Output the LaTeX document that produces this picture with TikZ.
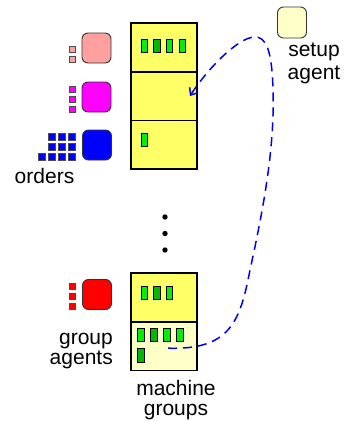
\documentclass[tikz,border=0pt]{standalone}
\usepackage{fontspec}
\setmainfont{Liberation Sans}
\usetikzlibrary{positioning,arrows.meta}

\definecolor{cellyellow}{RGB}{255,255,102}
\definecolor{idleyellow}{RGB}{255,255,200}
\definecolor{pinkagent}{RGB}{255,160,160}
\definecolor{ordmagenta}{RGB}{255,0,255}
\definecolor{ordblue}{RGB}{0,0,255}
\definecolor{grpred}{RGB}{255,0,0}
\definecolor{linkblue}{RGB}{0,0,240}
\definecolor{machgreen}{RGB}{0,240,0}
\definecolor{machdark}{RGB}{0,185,0}

\tikzset{
  cell/.style={draw=black, line width=1.6pt, fill=cellyellow, minimum width=66pt,
    minimum height=48.7pt, inner sep=0pt, outer sep=0pt},
  agent/.style={draw=black!80, line width=0.9pt, rounded corners=6pt,
    minimum width=29pt, minimum height=30pt, inner sep=0pt},
  job/.style={draw=black!70, line width=0.4pt},
  mach/.style={draw=black, line width=0.8pt, fill=machgreen},
  lbl/.style={font=\fontsize{21}{23}\selectfont, align=center, inner sep=0pt},
  agentlink/.style={linkblue, line width=1.5pt, dash pattern=on 9pt off 6pt,
    -{Straight Barb[length=6pt,width=10pt]}}
}

\begin{document}
\begin{tikzpicture}[x=1pt,y=-1pt]
\useasboundingbox (0,0) rectangle (347,421);

%%%%%%%%%%%%%%%%%%Upper Machine Group Column%%%%%%%%%%%%%%%
\node[cell] (t1) at (164,47.35) {};
\node[cell,below=0pt of t1] (t2) {};
\node[cell,below=0pt of t2] (t3) {};

%%%%%%%%%%%%%%%%%%Lower Machine Group Column%%%%%%%%%%%%%%%
\node[cell] (b1) at (164,297.5) {};
\node[cell,fill=idleyellow,below=0pt of b1] (b2) {};

%%%%%%%%%%%%%%%%%%Machines in The Cells%%%%%%%%%%%%%%%%%%%%
\draw[mach] (141,39) rectangle (147.5,52);
\draw[mach,fill=machdark] (153.5,39) rectangle (160,52);
\draw[mach] (166,39) rectangle (172.5,52);
\draw[mach] (179,39) rectangle (185.5,52);

\draw[mach] (141,133) rectangle (147.5,146.5);

\draw[mach] (141,286) rectangle (147.5,299);
\draw[mach,fill=machdark] (153.5,286) rectangle (160,299);
\draw[mach] (166,286) rectangle (172.5,299);

\draw[mach] (137.5,328) rectangle (144,341.5);
\draw[mach,fill=machdark] (150.5,328) rectangle (157,341.5);
\draw[mach] (163.5,328) rectangle (170,341.5);
\draw[mach] (176.5,328) rectangle (183,341.5);
\draw[mach,fill=machdark] (137.5,348) rectangle (144,362);

%%%%%%%%%%%%%%%%%%Dots Between The Columns%%%%%%%%%%%%%%%%%
\fill (165,217) circle (2.7pt);
\fill (165,233.5) circle (2.7pt);
\fill (165,250) circle (2.7pt);

%%%%%%%%%%%%%%%%%%Order Agents And Their Queues%%%%%%%%%%%%
\node[agent,fill=pinkagent] (ordA) at (96.5,48) {};
\node[agent,fill=ordmagenta] (ordB) at (96.5,97) {};
\node[agent,fill=ordblue] (ordC) at (97,145) {};

\draw[job,fill=pinkagent] (69,46) rectangle (75.5,52.5);
\draw[job,fill=pinkagent] (69,56) rectangle (75.5,62.5);

\draw[job,fill=ordmagenta] (69,86) rectangle (75.5,92.5);
\draw[job,fill=ordmagenta] (69,96) rectangle (75.5,102.5);
\draw[job,fill=ordmagenta] (69,106) rectangle (75.5,112.5);

\draw[job,fill=ordblue] (48.5,133.5) rectangle (55,140);
\draw[job,fill=ordblue] (58.5,133.5) rectangle (65,140);
\draw[job,fill=ordblue] (68.5,133.5) rectangle (75,140);
\draw[job,fill=ordblue] (48.5,143.5) rectangle (55,150);
\draw[job,fill=ordblue] (58.5,143.5) rectangle (65,150);
\draw[job,fill=ordblue] (68.5,143.5) rectangle (75,150);
\draw[job,fill=ordblue] (38.5,153.5) rectangle (45,160);
\draw[job,fill=ordblue] (48.5,153.5) rectangle (55,160);
\draw[job,fill=ordblue] (58.5,153.5) rectangle (65,160);
\draw[job,fill=ordblue] (68.5,153.5) rectangle (75,160);

%%%%%%%%%%%%%%%%%%Group Agent And Setup Agent%%%%%%%%%%%%%%
\node[agent,fill=grpred] (grpA) at (97,294.5) {};
\draw[job,fill=grpred] (69,283) rectangle (75.5,289.5);
\draw[job,fill=grpred] (69,293) rectangle (75.5,299.5);
\draw[job,fill=grpred] (69,303) rectangle (75.5,309.5);

\node[agent,fill=idleyellow,minimum height=31pt] (setupA) at (292,22.5) {};

%%%%%%%%%%%%%%%%%%Labels%%%%%%%%%%%%%%%%%%%%%%%%%%%%%%%%%%%%
\node[lbl,anchor=base] (ordlbl) at (44.5,183) {orders};
\node[lbl] (setuplbl) at (314,63.7) {setup\\agent};
\node[lbl,align=right,anchor=east,font=\fontsize{21}{20}\selectfont] (grplbl) at (113,350.7) {group\\agents};
\node[lbl,font=\fontsize{21}{20}\selectfont] (machlbl) at (176,399.8) {machine\\groups};

%%%%%%%%%%%%%%%%%%Setup Link Between The Groups%%%%%%%%%%%%%
\coordinate (lnkfrom) at ([xshift=4pt,yshift=-2pt]b2.center);
\coordinate (lnkto) at ([xshift=-7pt]t2.east);
\draw[agentlink] (lnkfrom) .. controls (230,350) and (240,322) .. (250,270)
  .. controls (262,215) and (275,150) .. (273,90)
  .. controls (272,50) and (266,36) .. (254,37)
  .. controls (238,38) and (208,68) .. (lnkto);

\end{tikzpicture}
\end{document}
